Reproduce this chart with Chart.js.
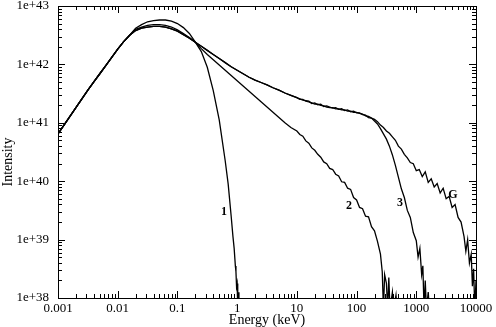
<!DOCTYPE html>
<html>
<head>
<meta charset="utf-8">
<script src="https://cdn.jsdelivr.net/npm/chart.js@4.4.0/dist/chart.umd.min.js"></script>
<style>
  html, body { margin: 0; padding: 0; background: #fff; }
  #wrap { width: 496px; height: 327px; }
</style>
</head>
<body>
<div id="wrap"><canvas id="spectrum"></canvas></div>
<script>
// values, as log10(energy / keV) and log10(intensity)
const riseLogE = [-3.0, -2.9, -2.8, -2.7, -2.6, -2.5, -2.4, -2.3, -2.2, -2.1, -2.0, -1.9, -1.8];
const riseLogI = [40.81, 40.96, 41.11, 41.26, 41.41, 41.56, 41.70, 41.84, 41.98, 42.12, 42.26, 42.39, 42.50];

const c1LogE = [-1.7, -1.6, -1.5, -1.4, -1.3, -1.2, -1.1, -1.0, -0.9, -0.8, -0.7, -0.6, -0.5, -0.4, -0.3, -0.2,
  -0.15, -0.1, -0.07, -0.05, -0.03, -0.02, -0.01, 0.0, 0.01, 0.02, 0.03];
const c1LogI = [42.62, 42.68, 42.73, 42.75, 42.76, 42.76, 42.74, 42.70, 42.63, 42.53, 42.38, 42.22, 41.95, 41.55, 41.05, 40.35,
  39.95, 39.40, 39.05, 38.85, 38.55, 38.45, 38.2, 38.25, 37.8, 38.1, 37.7];

const c2LogE = [-1.7, -1.6, -1.5, -1.4, -1.3, -1.2, -1.1, -1.0, -0.9, -0.8, -0.7, -0.6, -0.5, -0.4, -0.3, -0.2, -0.1, 0.0,
  0.1, 0.2, 0.3, 0.4, 0.5, 0.6, 0.7, 0.8, 0.9, 1.0,
  1.05, 1.1, 1.15, 1.2, 1.25, 1.3, 1.35, 1.4, 1.45, 1.5, 1.55, 1.6, 1.65, 1.7, 1.75, 1.8, 1.85, 1.9, 1.95, 2.0,
  2.05, 2.1, 2.15, 2.2, 2.25, 2.3, 2.35, 2.4,
  2.43, 2.45, 2.47, 2.5, 2.52, 2.54, 2.56, 2.6, 2.62, 2.66, 2.68];
const c2LogI = [42.60, 42.64, 42.67, 42.68, 42.68, 42.67, 42.64, 42.59, 42.53, 42.46, 42.38, 42.27, 42.17, 42.08, 41.99, 41.90, 41.81, 41.72,
  41.63, 41.54, 41.45, 41.36, 41.27, 41.18, 41.09, 41.00, 40.92, 40.86,
  40.80, 40.77, 40.69, 40.65, 40.57, 40.53, 40.46, 40.41, 40.33, 40.30, 40.22, 40.20, 40.12, 40.09, 39.99, 39.98, 39.88, 39.86, 39.72, 39.68,
  39.55, 39.53, 39.40, 39.39, 39.22, 39.15, 38.97, 38.75,
  38.45, 37.8, 38.40, 38.25, 37.8, 38.35, 37.8, 38.1, 37.8, 38.05, 37.8];

// curves 3 and G share this part up to 10 keV
const hardLogE = [-1.7, -1.6, -1.5, -1.4, -1.3, -1.2, -1.1, -1.0, -0.9, -0.8, -0.7, -0.6, -0.5, -0.4, -0.3, -0.2, -0.1, 0.0,
  0.1, 0.2, 0.3, 0.4, 0.5, 0.6, 0.7, 0.8, 0.9, 1.0];
const hardLogI = [42.58, 42.62, 42.64, 42.65, 42.65, 42.64, 42.61, 42.57, 42.51, 42.45, 42.38, 42.31, 42.24, 42.17, 42.10, 42.03, 41.96, 41.90,
  41.84, 41.78, 41.73, 41.69, 41.65, 41.60, 41.56, 41.51, 41.47, 41.43];

const c3LogE = [1.05, 1.1, 1.15, 1.2, 1.25, 1.3, 1.35, 1.4, 1.45, 1.5, 1.55, 1.6, 1.65, 1.7, 1.75, 1.8, 1.85, 1.9, 1.95, 2.0,
  2.05, 2.1, 2.15, 2.2, 2.25, 2.3,
  2.35, 2.4, 2.45, 2.5, 2.55, 2.6, 2.65, 2.7, 2.75, 2.8, 2.85, 2.9, 2.95, 3.0,
  3.03, 3.06, 3.09, 3.11, 3.13, 3.15, 3.17, 3.2, 3.22];
const c3LogI = [41.41, 41.39, 41.38, 41.37, 41.33, 41.34, 41.31, 41.32, 41.28, 41.29, 41.27, 41.25, 41.26, 41.23, 41.24, 41.21, 41.22, 41.19, 41.20, 41.17,
  41.17, 41.14, 41.13, 41.09, 41.08, 41.03,
  40.98, 40.90, 40.81, 40.72, 40.60, 40.45, 40.27, 40.07, 39.87, 39.72, 39.50, 39.38, 39.12, 38.98,
  38.70, 38.85, 38.40, 38.55, 37.8, 38.3, 37.8, 38.1, 37.8];

const cGLogE = [1.05, 1.1, 1.15, 1.2, 1.25, 1.3, 1.35, 1.4, 1.45, 1.5, 1.55, 1.6, 1.65, 1.7, 1.75, 1.8, 1.85, 1.9, 1.95, 2.0,
  2.05, 2.1, 2.15, 2.2, 2.25, 2.3,
  2.35, 2.4, 2.45, 2.5, 2.55, 2.6, 2.65, 2.7, 2.75, 2.8, 2.85, 2.9, 2.95, 3.0, 3.05, 3.1, 3.15, 3.2, 3.25, 3.3,
  3.35, 3.4, 3.45, 3.5, 3.55, 3.6, 3.65, 3.7, 3.75, 3.8, 3.83, 3.86, 3.89, 3.92, 3.94, 3.96, 3.98, 4.0];
const cGLogI = [41.40, 41.40, 41.37, 41.36, 41.34, 41.32, 41.32, 41.30, 41.29, 41.27, 41.26, 41.26, 41.24, 41.24, 41.22, 41.22, 41.20, 41.20, 41.18, 41.18,
  41.16, 41.15, 41.12, 41.11, 41.08, 41.06,
  41.02, 40.96, 40.92, 40.86, 40.82, 40.76, 40.70, 40.60, 40.55, 40.46, 40.40, 40.32, 40.30, 40.18, 40.20, 40.08, 40.16, 39.98, 40.04, 39.90,
  39.96, 39.80, 39.88, 39.70, 39.74, 39.55, 39.60, 39.38, 39.30, 39.05, 38.80, 39.00, 38.60, 38.75, 38.20, 38.5, 37.8, 38.3];

// curve labels (energy keV, intensity)
const labelText = ["1", "2", "3", "G"];
const labelE = [0.6, 75, 536, 4100];
const labelI = [2.95e39, 3.8e39, 4.3e39, 5.9e39];

const serif = "'Liberation Serif', 'Times New Roman', serif";

function toPoints(le, li) {
  return le.map((v, k) => ({ x: Math.pow(10, v), y: Math.pow(10, li[k]) }));
}

function curve(parts) {
  let pts = [];
  parts.forEach((p) => { pts = pts.concat(toPoints(p[0], p[1])); });
  return { data: pts, borderColor: "#000", borderWidth: 1.3, pointRadius: 0, fill: false };
}

function isDecade(v) {
  let e = Math.log10(v);
  return Math.abs(e - Math.round(e)) < 1e-6;
}

const frameTicks = {
  id: "frameTicks",
  afterDraw(chart) {
    let { ctx, chartArea: a, scales } = chart;
    let x = scales.x, y = scales.y;
    ctx.save();
    ctx.strokeStyle = "#000";
    ctx.lineWidth = 1;
    ctx.strokeRect(a.left + 0.5, a.top + 0.5, a.right - a.left, a.bottom - a.top);

    ctx.beginPath();
    for (let e = -3; e <= 4; e++) {
      for (let m = 1; m <= 9; m++) {
        let v = m * Math.pow(10, e);
        if (v > 10000 * 1.0001) break;
        let px = Math.round(x.getPixelForValue(v)) + 0.5;
        let len = m === 1 ? 7 : 4;
        ctx.moveTo(px, a.bottom); ctx.lineTo(px, a.bottom - len);
        ctx.moveTo(px, a.top); ctx.lineTo(px, a.top + len);
      }
    }
    for (let e = 38; e <= 43; e++) {
      for (let m = 1; m <= 9; m++) {
        let v = m * Math.pow(10, e);
        if (v > 1e43 * 1.0001) break;
        let py = Math.round(y.getPixelForValue(v)) + 0.5;
        let len = m === 1 ? 7 : 4;
        ctx.moveTo(a.left, py); ctx.lineTo(a.left + len, py);
        ctx.moveTo(a.right, py); ctx.lineTo(a.right - len, py);
      }
    }
    ctx.stroke();

    ctx.fillStyle = "#000";
    ctx.font = "bold 12px " + serif;
    ctx.textAlign = "center";
    ctx.textBaseline = "middle";
    labelText.forEach((t, k) => {
      ctx.fillText(t, x.getPixelForValue(labelE[k]), y.getPixelForValue(labelI[k]));
    });

    ctx.font = "14px " + serif;
    ctx.translate(8, (a.top + a.bottom) / 2 + 10);
    ctx.rotate(-Math.PI / 2);
    ctx.fillText("Intensity", 0, 0);
    ctx.restore();
  },
};

new Chart(document.getElementById("spectrum").getContext("2d"), {
  type: "line",
  data: {
    datasets: [
      curve([[riseLogE, riseLogI], [c1LogE, c1LogI]]),
      curve([[riseLogE, riseLogI], [c2LogE, c2LogI]]),
      curve([[riseLogE, riseLogI], [hardLogE, hardLogI], [c3LogE, c3LogI]]),
      curve([[riseLogE, riseLogI], [hardLogE, hardLogI], [cGLogE, cGLogI]]),
    ],
  },
  options: {
    animation: false,
    responsive: true,
    maintainAspectRatio: false,
    layout: { padding: { top: 6, right: 20, left: 0, bottom: 0 } },
    plugins: { legend: { display: false }, tooltip: { enabled: false } },
    elements: { line: { tension: 0 } },
    scales: {
      x: {
        type: "logarithmic",
        min: 0.001,
        max: 10000,
        grid: { display: false, drawTicks: false },
        border: { display: false },
        ticks: {
          autoSkip: false,
          maxRotation: 0,
          padding: 3,
          color: "#000",
          font: { family: serif, size: 13 },
          callback: (v) => (isDecade(v) ? String(Number(v.toPrecision(6))) : ""),
        },
        title: { display: true, text: "Energy (keV)", color: "#000", padding: 0, font: { family: serif, size: 14, lineHeight: 1 } },
        afterFit: (s) => { s.height = 29; s.paddingLeft = 0; s.paddingRight = 0; },
      },
      y: {
        type: "logarithmic",
        min: 1e38,
        max: 1e43,
        grid: { display: false, drawTicks: false },
        border: { display: false },
        ticks: {
          autoSkip: false,
          padding: 9,
          color: "#000",
          font: { family: serif, size: 13 },
          callback: (v) => (isDecade(v) ? "1e+" + Math.round(Math.log10(v)) : ""),
        },
        afterFit: (s) => { s.width = 58; s.paddingTop = 0; s.paddingBottom = 0; },
      },
    },
  },
  plugins: [frameTicks],
});
</script>
</body>
</html>
